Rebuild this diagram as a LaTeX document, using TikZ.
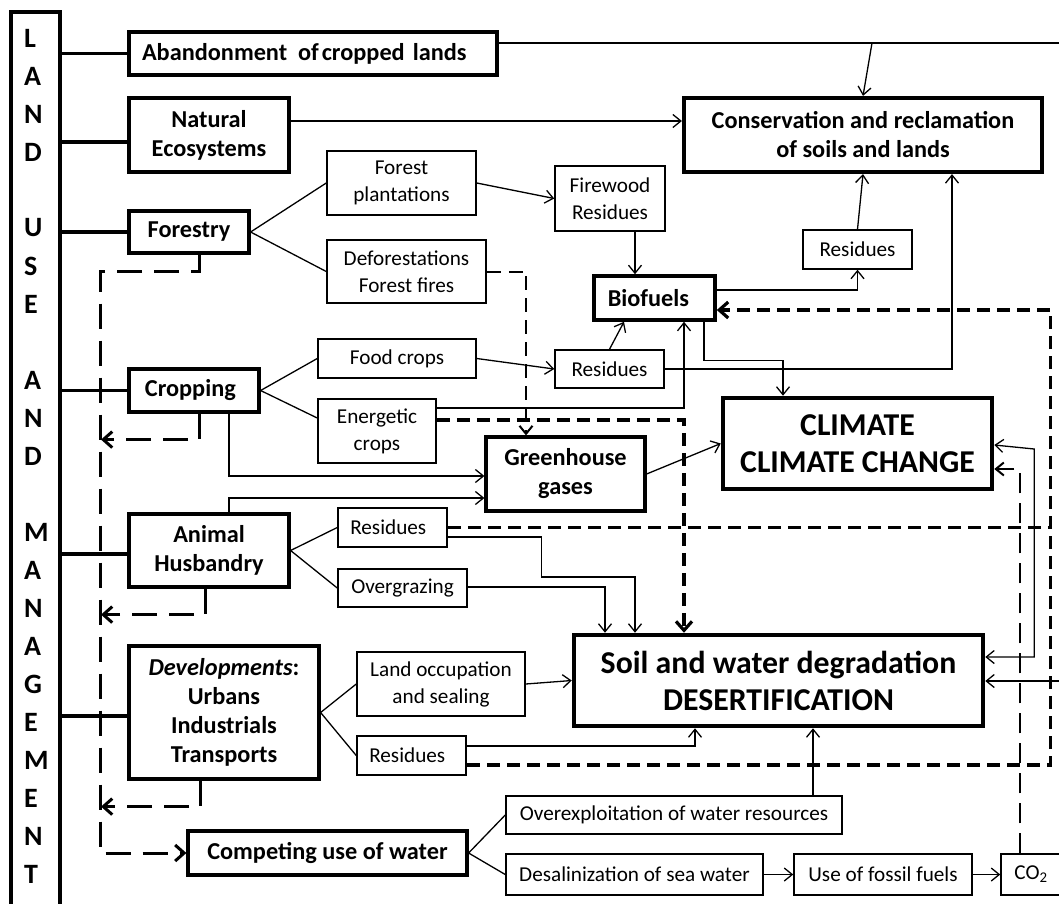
\documentclass[tikz,border=0pt]{standalone}
\usepackage{fontspec}
\setmainfont{Carlito}
\usetikzlibrary{arrows.meta,calc}
\tikzset{
 thinbox/.style={draw, line width=1.5pt, inner sep=0pt, align=center, font={\fontsize{21.2}{27}\selectfont}},
 catbox/.style={draw, line width=3.2pt, inner sep=0pt, align=center, font={\bfseries\fontsize{24.3}{29}\selectfont}},
 bigbox/.style={draw, line width=4.5pt, inner sep=0pt, align=center, font={\bfseries\fontsize{31.8}{37}\selectfont}},
 letter/.style={anchor=west, inner sep=0pt, font={\bfseries\fontsize{28}{30}\selectfont}},
 conn/.style={line width=1.3pt},
 arr/.style={conn, -{Straight Barb[length=8pt,width=13pt]}},
 biarr/.style={conn, {Straight Barb[length=8pt,width=13pt]}-{Straight Barb[length=8pt,width=13pt]}},
 catline/.style={line width=3.2pt},
 longdash/.style={line width=3pt, dash pattern=on 25pt off 12pt},
 thickdash/.style={line width=3.2pt, dash pattern=on 13pt off 7pt},
 meddash/.style={line width=2pt, dash pattern=on 14pt off 8pt},
 co2dash/.style={line width=2pt, dash pattern=on 20pt off 10pt},
 bigtip/.style={-{Straight Barb[length=9pt,width=16pt]}},
}
\begin{document}
\begin{tikzpicture}[x=1pt,y=-1pt]
\useasboundingbox (0,0) rectangle (1059,903);
\fill[white] (0,0) rectangle (1059,903);

% left column
\node[draw, line width=4pt, minimum width=49pt, minimum height=908pt, inner sep=0pt] (lum) at (35.5,466) {};
\foreach \i/\c in {0/L,1/A,2/N,3/D,5/U,6/S,7/E,9/A,10/N,11/D,13/M,14/A,15/N,16/A,17/G,18/E,19/M,20/E,21/N,22/T}
  \node[letter] (let\i) at (24,{38+38*\i}) {\c};

% category boxes
\node[catbox, minimum width=368pt, minimum height=43pt, text width=342pt, align=left] (aban) at (313,53.5) {Abandonment\hspace{0.45em}of\hspace{0.12em}cropped lands};
\node[catbox, minimum width=160pt, minimum height=74pt] (nat) at (209,135) {Natural\\Ecosystems};
\node[catbox, minimum width=120pt, minimum height=42pt] (forestry) at (189,232) {Forestry};
\node[catbox, minimum width=130pt, minimum height=43pt] (cropping) at (194,390.5) {Cropping\hspace{0.3em}};
\node[catbox, minimum width=160pt, minimum height=73pt] (animal) at (209,550.5) {Animal\\Husbandry};
\node[catbox, minimum width=190pt, minimum height=133pt] (dev) at (224,712.5) {\textit{Developments}:\\Urbans\\Industrials\\Transports};
\node[catbox, minimum width=279pt, minimum height=44pt] (water) at (327.5,853) {Competing use of water};

% thin boxes
\node[thinbox, minimum width=149pt, minimum height=64pt] (fplant) at (401.5,183) {Forest\\plantations};
\node[thinbox, minimum width=159pt, minimum height=63pt] (defor) at (406.5,271.5) {Deforestations\\Forest fires};
\node[thinbox, minimum width=158pt, minimum height=39pt] (food) at (397,358.5) {Food crops};
\node[thinbox, minimum width=118pt, minimum height=64pt] (energ) at (377,431) {Energetic\\crops};
\node[thinbox, minimum width=109pt, minimum height=39pt] (anres) at (392.5,527.5) {Residues\hspace{0.4em}};
\node[thinbox, minimum width=129pt, minimum height=38pt] (overg) at (402.5,588) {Overgrazing};
\node[thinbox, minimum width=168pt, minimum height=64pt] (land) at (441,684) {Land occupation\\and sealing};
\node[thinbox, minimum width=109pt, minimum height=39pt] (devres) at (411.5,755.5) {Residues\hspace{0.4em}};
\node[thinbox, minimum width=336pt, minimum height=38pt] (overx) at (674,815) {Overexploitation of water resources};
\node[thinbox, minimum width=257pt, minimum height=41pt] (desal) at (634.5,874.5) {Desalinization of sea water};
\node[thinbox, minimum width=178pt, minimum height=41pt] (fossil) at (883,874.5) {Use of fossil fuels};
\node[thinbox, minimum width=60pt, minimum height=41pt] (co2) at (1031,874.5) {CO\textsubscript{2}};
\node[thinbox, minimum width=110pt, minimum height=65pt] (firewood) at (610,198.5) {Firewood\\Residues};
\node[thinbox, minimum width=109pt, minimum height=39pt] (upres) at (857.5,249.5) {Residues};
\node[thinbox, minimum width=109pt, minimum height=38pt] (midres) at (609.5,369) {Residues};

% bold boxes
\node[catbox, line width=3.6pt, minimum width=121pt, minimum height=44pt] (biof) at (654.5,298) {Biofuels\hspace{0.5em}};
\node[catbox, minimum width=159pt, minimum height=74pt] (green) at (565.5,474) {Greenhouse\\gases};
\node[catbox, line width=4.2pt, minimum width=358pt, minimum height=74pt] (cons) at (863,135) {Conservation and reclamation\\of soils and lands};
\node[bigbox, minimum width=269pt, minimum height=91pt] (climate) at (857.5,443.5) {CLIMATE\\CLIMATE CHANGE};
\node[bigbox, minimum width=409pt, minimum height=91pt] (soil) at (778.5,680.5) {Soil and water degradation\\DESERTIFICATION};

% connections from left column
\coordinate (natL) at ([yshift=-7pt]nat.west);
\draw[catline] (lum.east |- aban.west) -- (aban.west);
\draw[catline] (lum.east |- natL) -- (natL);
\draw[catline] (lum.east |- forestry.west) -- (forestry.west);
\draw[catline] (lum.east |- cropping.west) -- (cropping.west);
\coordinate (anL) at ([yshift=-3.5pt]animal.west);
\draw[catline] (lum.east |- anL) -- (anL);
\coordinate (devL) at ([yshift=-3.5pt]dev.west);
\draw[catline] (lum.east |- devL) -- (devL);

% top lines
\coordinate (abR) at ([yshift=10.5pt]aban.east);
\coordinate (edgeTop) at (1060,43);
\draw[conn] (abR) -- (edgeTop);
\coordinate (abJ) at (872,43);
\draw[arr] (abJ) -- (cons.north);
\coordinate (natR) at ([yshift=14pt]nat.east);
\draw[arr] (natR) -- (natR -| cons.west);

% forestry
\draw[conn] (forestry.east) -- (fplant.west);
\draw[conn] (forestry.east) -- (defor.west);
\draw[arr] (fplant.east) -- (firewood.west);
\draw[arr] ([xshift=25pt]firewood.south) -- ([xshift=-19.5pt]biof.north);
\draw[arr] ([yshift=8pt]biof.east) -| (upres.south);
\draw[arr] (upres.north) -- (cons.south);
\draw[arr] (midres.east) -| ([xshift=89pt]cons.south);
\draw[arr] (midres.north) -- ([xshift=-30.5pt]biof.south);
\draw[meddash, -{Straight Barb[length=8pt,width=13pt]}] (defor.east) -| ([xshift=-39.5pt]green.north);

% cropping
\draw[conn] (cropping.east) -- (food.west);
\draw[conn] (cropping.east) -- ([yshift=13pt]energ.west);
\draw[arr] (food.east) -- (midres.west);
\draw[arr] ([yshift=23pt]energ.east) -| ([xshift=29.5pt]biof.south);
\draw[thickdash, bigtip] ([yshift=11pt]energ.east) -| ([xshift=-94.5pt]soil.north);
\draw[arr] ([xshift=35pt]cropping.south) |- ([yshift=-2pt]green.west);
\draw[arr] ([xshift=20pt]animal.north) |- ([yshift=-24pt]green.west);
\draw[arr] (green.east) -- (climate.west);
\draw[arr] ([xshift=49.5pt]biof.south) -- ++(0,39) -| ([xshift=-74.5pt]climate.north);

% animal
\draw[conn] (animal.east) -- (anres.west);
\draw[conn] (animal.east) -- (overg.west);
\draw[arr] ([yshift=-9.5pt]anres.east) -- ++(94,0) -- ++(0,40) -| ([xshift=-143.5pt]soil.north);
\draw[arr] ([yshift=1pt]overg.east) -| ([xshift=-173.5pt]soil.north);
\draw[thickdash] (anres.east) -- ++(603,0);

% developments
\draw[conn] (dev.east) -- (land.west);
\draw[conn] (dev.east) -- (devres.west);
\draw[arr] (land.east) -- (soil.west);
\draw[arr] ([yshift=9.5pt]devres.east) -| ([xshift=-83.5pt]soil.south);
\draw[thickdash, bigtip] ([yshift=-9.5pt]devres.east) -- ++(584,0) |- ([yshift=-12pt]biof.east);

% water
\draw[conn] (water.east) -- (overx.west);
\draw[conn] (water.east) -- (desal.west);
\draw[arr] ([xshift=139pt]overx.north) -- ([xshift=34.5pt]soil.south);
\draw[arr] (desal.east) -- (fossil.west);
\draw[arr] (fossil.east) -- (co2.west);
\draw[co2dash, -{Straight Barb[length=8pt,width=13pt]}] ([xshift=-11pt]co2.north) |- ([yshift=-25.5pt]climate.east);

% right side
\draw[biarr] ([yshift=23.5pt]soil.east) -- ++(49,0) -- ++(0,-208) -- ([yshift=-1.5pt]climate.east);
\coordinate (edgeR) at (1060,681);
\draw[arr] (edgeR) -- (edgeR -| soil.east);

% left dashed returns
\draw[longdash, -{Straight Barb[length=9pt,width=16pt]}] ([xshift=10pt]forestry.south) -- ++(0,17) -- ++(-99,0) |- (water.west);
\draw[longdash, -{Straight Barb[length=9pt,width=16pt]}] ([xshift=5pt]cropping.south) -- ++(0,26) -- ++(-98,0);
\draw[longdash, -{Straight Barb[length=9pt,width=16pt]}] ([xshift=-4pt]animal.south) -- ++(0,26) -- ++(-104,0);
\draw[longdash, -{Straight Barb[length=9pt,width=16pt]}] ([xshift=-24pt]dev.south) -- ++(0,26) -- ++(-99,0);
\end{tikzpicture}
\end{document}
